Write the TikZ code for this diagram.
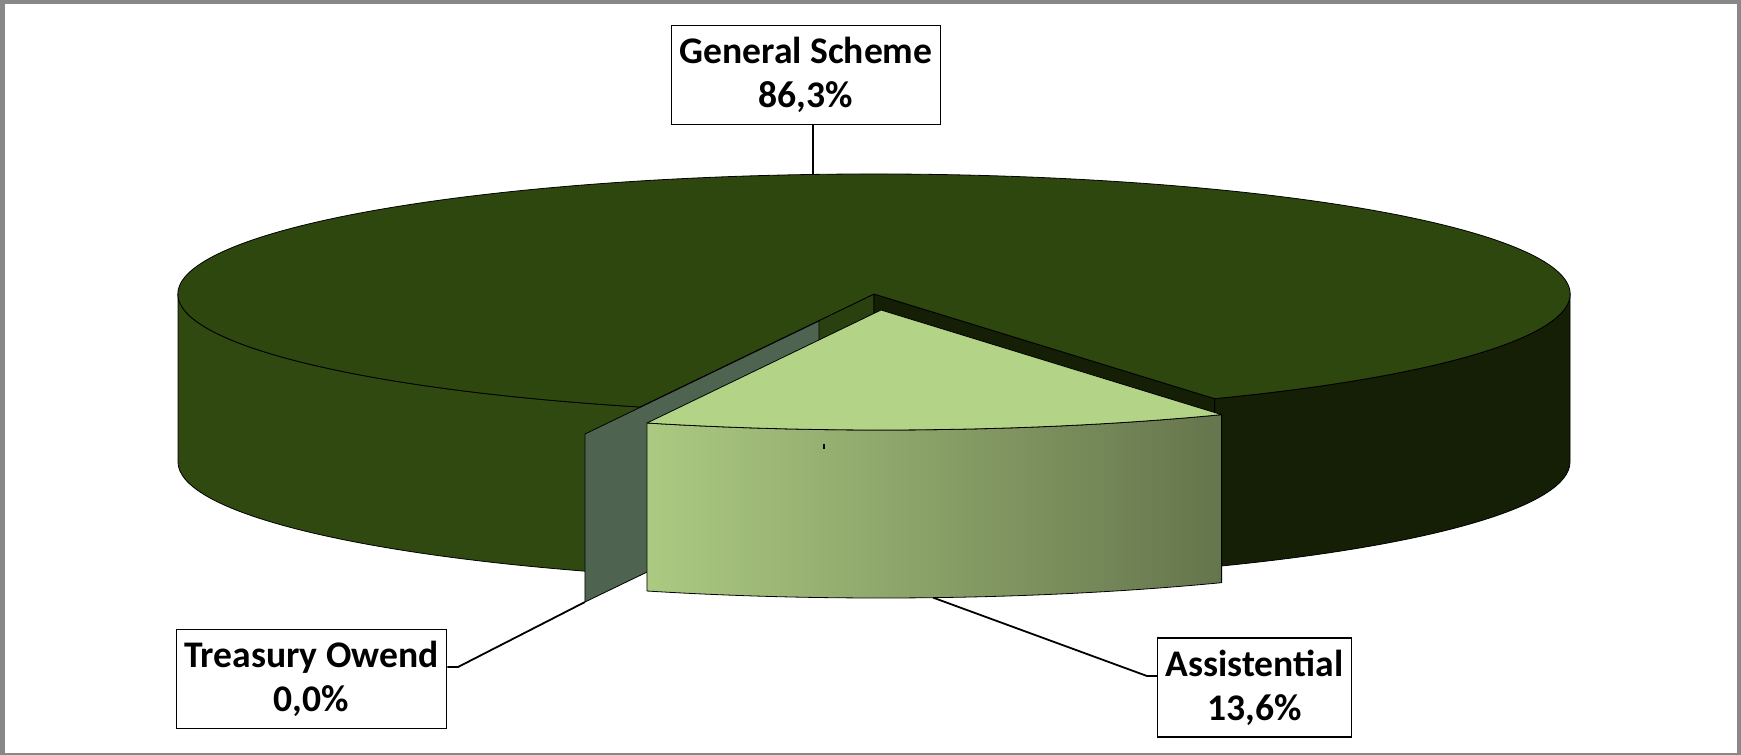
\documentclass[tikz,border=0pt]{standalone}
\usepackage{fontspec}
\setmainfont{Carlito}
\usetikzlibrary{positioning,calc}

\definecolor{framegray}{RGB}{136,136,136}
\definecolor{schemetop}{RGB}{46,71,14}
\definecolor{schemeside}{RGB}{48,73,16}
\definecolor{schemecut}{RGB}{42,64,14}
\definecolor{schemedark}{RGB}{20,31,6}
\definecolor{treasface}{RGB}{79,100,80}
\definecolor{assisttop}{RGB}{179,211,135}
\definecolor{assistlight}{RGB}{172,202,130}
\definecolor{assistdark}{RGB}{101,117,76}

\begin{document}
\begin{tikzpicture}[x=0.5pt, y=-0.5pt,
    every node/.style={rectangle, draw, line width=0.6pt, fill=white, align=center, inner xsep=4pt, minimum height=49.5pt, font=\fontsize{18.8}{22}\selectfont\bfseries},
    face/.style={draw=black, line width=0.4pt, line join=round},
    leader/.style={draw=black, line width=0.9pt}]
    % frame
    \fill[framegray] (0,0) rectangle (1741,755);
    \fill[white] (5,4) rectangle (1737,753);
    \useasboundingbox (0,0) rectangle (1741,755);

    % centres of the pie and of the pulled out slices
    \coordinate (c) at (874,294);
    \coordinate (t) at ($(c)+(-55,27)$);
    \coordinate (a) at ($(c)+(7,16)$);

    % general scheme
    \path[face, fill=schemecut] (c) -- ++(109.65:696 and 120) -- ++(0,168) -- ($(c)+(0,168)$) -- cycle;
    \path[face, fill=schemedark] (c) -- ++(60.7:696 and 120) -- ++(0,168) -- ($(c)+(0,168)$) -- cycle;
    \path[face, fill=schemeside] ($(c)+(109.65:696 and 120)$) arc[start angle=109.65, end angle=180, x radius=696, y radius=120]
        -- ++(0,168) arc[start angle=180, end angle=109.65, x radius=696, y radius=120] -- cycle;
    \path[face, fill=schemedark] ($(c)+(0:696 and 120)$) arc[start angle=0, end angle=60.7, x radius=696, y radius=120]
        -- ++(0,168) arc[start angle=60.7, end angle=0, x radius=696, y radius=120] -- cycle;
    \path[face, fill=schemetop] (c) -- ++(109.65:696 and 120) arc[start angle=109.65, end angle=420.7, x radius=696, y radius=120] -- cycle;

    % treasury owend
    \path[face, fill=treasface] (t) -- ++(109.65:696 and 120) -- ++(0,168) coordinate (tbot) -- ($(t)+(0,168)$) -- cycle;

    % assistential
    \path[face, left color=assistlight, right color=assistdark] ($(a)+(60.7:696 and 120)$) arc[start angle=60.7, end angle=109.65, x radius=696, y radius=120]
        -- ++(0,168) arc[start angle=109.65, end angle=60.7, x radius=696, y radius=120] -- cycle;
    \path[face, fill=assisttop] (a) -- ++(60.7:696 and 120) arc[start angle=60.7, end angle=109.65, x radius=696, y radius=120] -- cycle;
    \draw[line width=0.6pt] (824,444) -- (824,449);

    % labels
    \node (genbox) at (806,75) {General Scheme\\86,3\%};
    \node (treasbox) at (311.5,679) {Treasury Owend\\0,0\%};
    \node (assistbox) at (1254.5,687.5) {Assistential\\13,6\%};

    \coordinate (genpt) at ($(c)+(265:696 and 120)$);
    \coordinate (treasknee) at (458,667);
    \coordinate (assistknee) at (1147,676);
    \coordinate (assistpt) at ($(a)+(0,168)+(85.7:696 and 120)$);

    \draw[leader] (genbox.south -| genpt) -- (genpt);
    \draw[leader] (treasbox.east |- treasknee) -- (treasknee) -- (tbot);
    \draw[leader] (assistbox.west |- assistknee) -- (assistknee) -- (assistpt);
\end{tikzpicture}
\end{document}
